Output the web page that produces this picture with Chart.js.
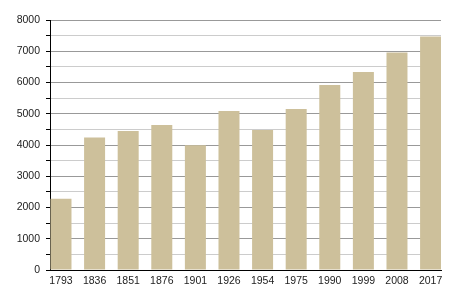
<!DOCTYPE html>
<html>
<head>
<meta charset="utf-8">
<script src="https://cdn.jsdelivr.net/npm/chart.js@4/dist/chart.umd.min.js"></script>
<style>
  html, body { margin: 0; padding: 0; background: #fff; }
</style>
</head>
<body>
<canvas id="myChart" width="450" height="300"></canvas>
<script>
const years = ['1793', '1836', '1851', '1876', '1901', '1926', '1954', '1975', '1990', '1999', '2008', '2017'];
const population = [2280, 4240, 4450, 4640, 3990, 5090, 4480, 5150, 5920, 6340, 6960, 7470];
const yTicks = [0, 1000, 2000, 3000, 4000, 5000, 6000, 7000, 8000];

const ctx = document.getElementById('myChart').getContext('2d');

new Chart(ctx, {
  type: 'bar',
  data: {
    datasets: [
      {
        data: population.map((v, i) => ({ x: i, y: v })),
        backgroundColor: '#cdc09b',
        borderWidth: 0,
        barPercentage: 0.625,
        categoryPercentage: 1,
      },
    ],
  },
  options: {
    responsive: false,
    animation: false,
    devicePixelRatio: 1,
    layout: {
      padding: { top: 20, right: 9, bottom: 0, left: 0 },
    },
    scales: {
      x: {
        type: 'linear',
        offset: false,
        min: -0.327,
        max: 11.31,
        afterFit: (scale) => { scale.height = 30; },
        grid: { display: false, drawTicks: false },
        border: { display: true, color: '#000', width: 1 },
        ticks: {
          stepSize: 1,
          includeBounds: false,
          autoSkip: false,
          maxRotation: 0,
          padding: 5,
          color: '#222',
          font: { family: 'Liberation Sans, Arial, sans-serif', size: 10.5 },
          callback: (v) => years[v] ?? '',
        },
      },
      y: {
        min: 0,
        max: 8000,
        afterFit: (scale) => { scale.width = 50; },
        border: { display: true, color: '#000', width: 1 },
        grid: {
          color: (c) => (c.tick && yTicks.includes(c.tick.value) ? '#999999' : '#cccccc'),
          tickColor: '#000',
          tickLength: 4,
          lineWidth: 1,
        },
        ticks: {
          stepSize: 500,
          padding: 6,
          color: '#222',
          font: { family: 'Liberation Sans, Arial, sans-serif', size: 10.5 },
          callback: (v) => (yTicks.includes(v) ? String(v) : ''),
        },
      },
    },
    plugins: {
      legend: { display: false },
      tooltip: { enabled: false },
    },
  },
});
</script>
</body>
</html>
